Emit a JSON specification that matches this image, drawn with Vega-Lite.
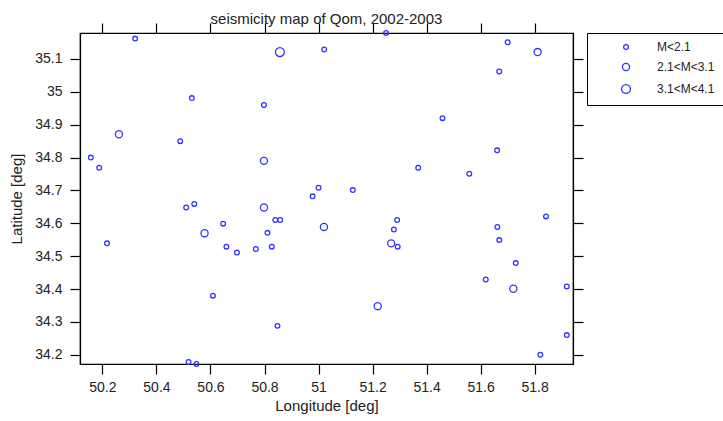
{
  "$schema": "https://vega.github.io/schema/vega-lite/v6.json",
  "width": 493,
  "height": 331,
  "autosize": {"type": "none"},
  "padding": {"left": 80, "top": 33, "right": 150, "bottom": 57},
  "background": "white",
  "title": {"text": "seismicity map of Qom, 2002-2003", "fontSize": 15, "fontWeight": "normal", "font": "Liberation Sans", "color": "#222222", "anchor": "middle", "baseline": "alphabetic", "offset": -17},
  "config": {
    "view": {"stroke": "black", "strokeWidth": 1.2},
    "axis": {"grid": false, "domainColor": "black", "domainWidth": 1.2, "tickColor": "black", "tickWidth": 1.2, "tickSize": 10, "labelFont": "Liberation Sans", "labelFontSize": 14, "labelColor": "#222222", "titleFont": "Liberation Sans", "titleFontSize": 15, "titleFontWeight": "normal", "titleColor": "#222222", "labelPadding": 6}
  },
  "data": {"values": [
    {"lon": 50.321, "lat": 35.162, "mag": "M<2.1"},
    {"lon": 50.531, "lat": 34.981, "mag": "M<2.1"},
    {"lon": 50.261, "lat": 34.871, "mag": "2.1<M<3.1"},
    {"lon": 50.488, "lat": 34.850, "mag": "M<2.1"},
    {"lon": 50.157, "lat": 34.800, "mag": "M<2.1"},
    {"lon": 50.188, "lat": 34.769, "mag": "M<2.1"},
    {"lon": 50.857, "lat": 35.121, "mag": "3.1<M<4.1"},
    {"lon": 51.021, "lat": 35.129, "mag": "M<2.1"},
    {"lon": 51.250, "lat": 35.179, "mag": "M<2.1"},
    {"lon": 50.798, "lat": 34.960, "mag": "M<2.1"},
    {"lon": 50.798, "lat": 34.790, "mag": "2.1<M<3.1"},
    {"lon": 51.000, "lat": 34.708, "mag": "M<2.1"},
    {"lon": 51.127, "lat": 34.701, "mag": "M<2.1"},
    {"lon": 50.978, "lat": 34.682, "mag": "M<2.1"},
    {"lon": 51.700, "lat": 35.151, "mag": "M<2.1"},
    {"lon": 51.811, "lat": 35.121, "mag": "2.1<M<3.1"},
    {"lon": 51.669, "lat": 35.062, "mag": "M<2.1"},
    {"lon": 51.459, "lat": 34.920, "mag": "M<2.1"},
    {"lon": 51.661, "lat": 34.822, "mag": "M<2.1"},
    {"lon": 51.369, "lat": 34.769, "mag": "M<2.1"},
    {"lon": 51.558, "lat": 34.751, "mag": "M<2.1"},
    {"lon": 50.510, "lat": 34.648, "mag": "M<2.1"},
    {"lon": 50.540, "lat": 34.659, "mag": "M<2.1"},
    {"lon": 50.647, "lat": 34.599, "mag": "M<2.1"},
    {"lon": 50.578, "lat": 34.570, "mag": "2.1<M<3.1"},
    {"lon": 50.217, "lat": 34.539, "mag": "M<2.1"},
    {"lon": 50.659, "lat": 34.529, "mag": "M<2.1"},
    {"lon": 50.698, "lat": 34.511, "mag": "M<2.1"},
    {"lon": 50.609, "lat": 34.380, "mag": "M<2.1"},
    {"lon": 50.519, "lat": 34.178, "mag": "M<2.1"},
    {"lon": 50.548, "lat": 34.172, "mag": "M<2.1"},
    {"lon": 50.798, "lat": 34.648, "mag": "2.1<M<3.1"},
    {"lon": 50.840, "lat": 34.610, "mag": "M<2.1"},
    {"lon": 50.858, "lat": 34.610, "mag": "M<2.1"},
    {"lon": 50.811, "lat": 34.571, "mag": "M<2.1"},
    {"lon": 50.768, "lat": 34.522, "mag": "M<2.1"},
    {"lon": 50.827, "lat": 34.529, "mag": "M<2.1"},
    {"lon": 51.020, "lat": 34.589, "mag": "2.1<M<3.1"},
    {"lon": 51.291, "lat": 34.610, "mag": "M<2.1"},
    {"lon": 51.279, "lat": 34.581, "mag": "M<2.1"},
    {"lon": 51.269, "lat": 34.539, "mag": "2.1<M<3.1"},
    {"lon": 51.293, "lat": 34.529, "mag": "M<2.1"},
    {"lon": 51.219, "lat": 34.348, "mag": "2.1<M<3.1"},
    {"lon": 50.848, "lat": 34.288, "mag": "M<2.1"},
    {"lon": 51.842, "lat": 34.621, "mag": "M<2.1"},
    {"lon": 51.662, "lat": 34.589, "mag": "M<2.1"},
    {"lon": 51.669, "lat": 34.549, "mag": "M<2.1"},
    {"lon": 51.730, "lat": 34.479, "mag": "M<2.1"},
    {"lon": 51.619, "lat": 34.429, "mag": "M<2.1"},
    {"lon": 51.721, "lat": 34.401, "mag": "2.1<M<3.1"},
    {"lon": 51.919, "lat": 34.408, "mag": "M<2.1"},
    {"lon": 51.919, "lat": 34.260, "mag": "M<2.1"},
    {"lon": 51.821, "lat": 34.200, "mag": "M<2.1"}
  ]},
  "layer": [
    {
      "mark": {"type": "point", "filled": false, "stroke": "#3333ff", "strokeWidth": 1.3, "opacity": 1},
      "encoding": {
        "x": {"field": "lon", "type": "quantitative", "title": "Longitude [deg]",
              "scale": {"domain": [50.117, 51.942], "nice": false, "zero": false},
              "axis": {"values": [50.2, 50.4, 50.6, 50.8, 51, 51.2, 51.4, 51.6, 51.8], "format": "~g", "titlePadding": 4}},
        "y": {"field": "lat", "type": "quantitative", "title": "Latitude [deg]",
              "scale": {"domain": [34.172, 35.179], "nice": false, "zero": false},
              "axis": {"values": [34.2, 34.3, 34.4, 34.5, 34.6, 34.7, 34.8, 34.9, 35, 35.1], "format": "~g", "labelPadding": 8, "titlePadding": 10}},
        "size": {"field": "mag", "type": "ordinal",
                 "scale": {"domain": ["M<2.1", "2.1<M<3.1", "3.1<M<4.1"], "range": [22, 80, 180]},
                 "legend": {"title": null, "orient": "none", "legendX": 507, "legendY": 0,
                            "strokeColor": "black", "fillColor": "white", "padding": 8,
                            "symbolType": "circle", "symbolStrokeColor": "#3333ff", "symbolStrokeWidth": 1.3, "symbolFillColor": "transparent",
                            "symbolOffset": 25, "labelOffset": 25, "rowPadding": 7,
                            "labelFont": "Liberation Sans", "labelFontSize": 12, "labelColor": "#222222"}}
      }
    },
    {
      "mark": {"type": "point", "opacity": 0},
      "encoding": {
        "x": {"field": "lon", "type": "quantitative",
              "axis": {"orient": "top", "values": [50.2, 50.4, 50.6, 50.8, 51, 51.2, 51.4, 51.6, 51.8], "labels": false, "title": null}},
        "y": {"field": "lat", "type": "quantitative",
              "axis": {"orient": "right", "values": [34.2, 34.3, 34.4, 34.5, 34.6, 34.7, 34.8, 34.9, 35, 35.1], "labels": false, "title": null}}
      }
    }
  ],
  "resolve": {"axis": {"x": "independent", "y": "independent"}}
}
